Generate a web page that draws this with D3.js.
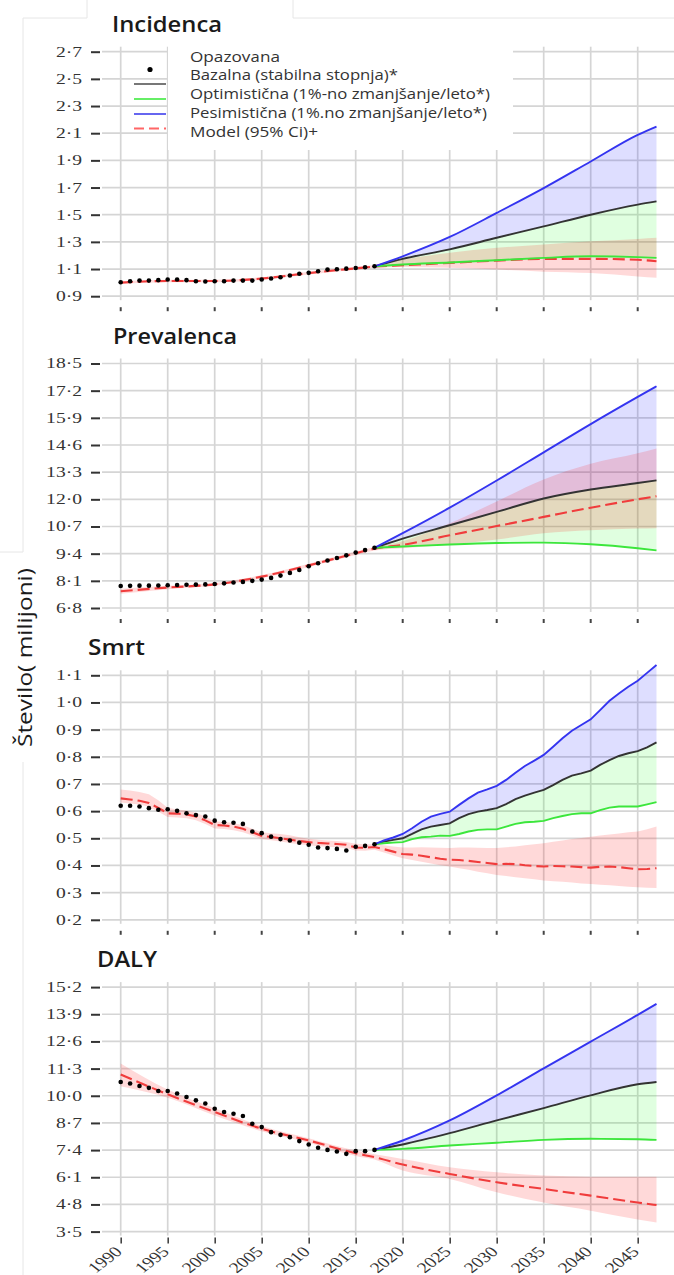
<!DOCTYPE html>
<html>
<head>
<meta charset="utf-8">
<script src="https://cdn.jsdelivr.net/npm/d3@7"></script>
<style>
  body { margin: 0; background: #fff; }
  svg { display: block; }
</style>
</head>
<body>
<div id="chart"></div>
<script>
// ---- data (millions) ----
const years5 = [1990, 1995, 2000, 2005, 2010, 2015, 2020, 2025, 2030, 2035, 2040, 2045];
const obsYears = d3.range(1990, 2018);
const sparseModelYears = [1990, 1995, 2000, 2005, 2010, 2015, 2017, 2020, 2025, 2030, 2035, 2040, 2045, 2047];
const sparseScenYears = [2017, 2020, 2025, 2030, 2035, 2040, 2045, 2047];
const smrtModelYears = d3.range(1990, 2048);
const smrtScenYears = d3.range(2017, 2048);

const panelTitles = ["Incidenca", "Prevalenca", "Smrt", "DALY"];
const legendLabels = ["Opazovana", "Bazalna (stabilna stopnja)*", "Optimistična (1%-no zmanjšanje/leto*)",
  "Pesimistična (1%.no zmanjšanje/leto*)", "Model (95% Ci)+"];
const yTitle = "Število( milijoni)";

// Incidenca
const incTicks = [0.9, 1.1, 1.3, 1.5, 1.7, 1.9, 2.1, 2.3, 2.5, 2.7];
const incObserved = [1.003, 1.010, 1.015, 1.015, 1.018, 1.023, 1.023, 1.018, 1.010, 1.008, 1.010, 1.010, 1.015, 1.015,
  1.015, 1.023, 1.030, 1.040, 1.052, 1.065, 1.072, 1.084, 1.096, 1.098, 1.103, 1.108, 1.113, 1.120];
const incModel = [1.000, 1.012, 1.012, 1.030, 1.070, 1.105, 1.118, 1.128, 1.145, 1.162, 1.175, 1.175, 1.168, 1.157];
const incLo = [0.990, 1.002, 1.002, 1.020, 1.060, 1.095, 1.108, 1.115, 1.110, 1.096, 1.080, 1.070, 1.045, 1.035];
const incHi = [1.010, 1.022, 1.022, 1.040, 1.080, 1.115, 1.130, 1.170, 1.219, 1.256, 1.280, 1.304, 1.322, 1.330];
const incBase = [1.120, 1.175, 1.245, 1.330, 1.414, 1.500, 1.574, 1.598];
const incOpt = [1.120, 1.133, 1.148, 1.165, 1.182, 1.194, 1.188, 1.182];
const incPes = [1.120, 1.194, 1.336, 1.513, 1.696, 1.892, 2.088, 2.149];

// Prevalenca
const prevTicks = [6.8, 8.1, 9.4, 10.7, 12.0, 13.3, 14.6, 15.9, 17.2, 18.5];
const prevObserved = [7.85, 7.86, 7.87, 7.87, 7.88, 7.89, 7.90, 7.91, 7.92, 7.93, 7.95, 7.98, 8.02, 8.05,
  8.10, 8.16, 8.24, 8.35, 8.48, 8.62, 8.80, 8.94, 9.07, 9.19, 9.32, 9.45, 9.57, 9.68];
const prevModel = [7.60, 7.78, 7.93, 8.30, 8.84, 9.42, 9.64, 9.82, 10.28, 10.72, 11.16, 11.60, 12.00, 12.15];
const prevLo = [7.48, 7.70, 7.86, 8.22, 8.76, 9.34, 9.55, 9.66, 9.84, 10.08, 10.38, 10.52, 10.60, 10.62];
const prevHi = [7.72, 7.86, 8.00, 8.38, 8.92, 9.50, 9.72, 10.00, 10.85, 11.90, 12.95, 13.70, 14.20, 14.43];
const prevBase = [9.68, 10.12, 10.76, 11.40, 12.04, 12.47, 12.78, 12.91];
const prevOpt = [9.68, 9.74, 9.84, 9.91, 9.93, 9.85, 9.66, 9.56];
const prevPes = [9.68, 10.38, 11.60, 12.90, 14.25, 15.60, 16.90, 17.41];

// Smrt
const smrtTicks = [0.2, 0.3, 0.4, 0.5, 0.6, 0.7, 0.8, 0.9, 1.0, 1.1];
const smrtObserved = [0.620, 0.620, 0.617, 0.611, 0.605, 0.607, 0.601, 0.592, 0.586, 0.580, 0.565, 0.559, 0.557, 0.553,
  0.525, 0.519, 0.506, 0.497, 0.492, 0.484, 0.476, 0.466, 0.464, 0.461, 0.455, 0.469, 0.472, 0.478];
const smrtModel = [0.647, 0.643, 0.638, 0.630, 0.612, 0.592, 0.591, 0.588, 0.580, 0.566,
  0.549, 0.547, 0.543, 0.535, 0.522, 0.509, 0.505, 0.500, 0.495, 0.490,
  0.486, 0.483, 0.481, 0.479, 0.476, 0.466, 0.465, 0.468, 0.460, 0.451,
  0.442, 0.440, 0.436, 0.430, 0.425, 0.421, 0.420, 0.417, 0.413, 0.409,
  0.405, 0.406, 0.405, 0.401, 0.398, 0.396, 0.398, 0.397, 0.396, 0.394,
  0.392, 0.395, 0.396, 0.394, 0.390, 0.386, 0.387, 0.390];
const smrtHi = [0.680, 0.676, 0.670, 0.662, 0.640, 0.612, 0.606, 0.602, 0.594, 0.580,
  0.563, 0.560, 0.556, 0.548, 0.535, 0.522, 0.519, 0.516, 0.511, 0.504,
  0.498, 0.495, 0.492, 0.490, 0.486, 0.480, 0.478, 0.478, 0.474, 0.470,
  0.466, 0.466, 0.467, 0.466, 0.465, 0.464, 0.466, 0.466, 0.465, 0.464,
  0.464, 0.467, 0.470, 0.474, 0.478, 0.482, 0.487, 0.492, 0.497, 0.501,
  0.506, 0.510, 0.514, 0.518, 0.522, 0.525, 0.533, 0.543];
const smrtLo = [0.632, 0.628, 0.624, 0.616, 0.598, 0.578, 0.577, 0.574, 0.566, 0.553,
  0.536, 0.534, 0.530, 0.522, 0.510, 0.497, 0.493, 0.488, 0.483, 0.478,
  0.474, 0.471, 0.469, 0.467, 0.464, 0.455, 0.454, 0.458, 0.448, 0.437,
  0.427, 0.420, 0.414, 0.407, 0.401, 0.396, 0.390, 0.384, 0.377, 0.371,
  0.365, 0.361, 0.357, 0.353, 0.349, 0.345, 0.342, 0.340, 0.337, 0.334,
  0.332, 0.329, 0.327, 0.324, 0.322, 0.320, 0.318, 0.317];
const smrtBase = [0.478, 0.488, 0.494, 0.500, 0.516, 0.533, 0.543, 0.549, 0.555, 0.574, 0.589, 0.598, 0.604, 0.611,
  0.626, 0.644, 0.657, 0.668, 0.678, 0.696, 0.715, 0.731, 0.739, 0.749, 0.770, 0.788, 0.803, 0.813, 0.821, 0.835, 0.853];
const smrtOpt = [0.478, 0.482, 0.484, 0.486, 0.497, 0.504, 0.506, 0.510, 0.509, 0.516, 0.525, 0.531, 0.533, 0.533,
  0.543, 0.553, 0.559, 0.561, 0.564, 0.574, 0.582, 0.589, 0.592, 0.592, 0.604, 0.613, 0.617, 0.617, 0.617, 0.625, 0.633];
const smrtPes = [0.478, 0.492, 0.503, 0.516, 0.537, 0.561, 0.580, 0.590, 0.598, 0.623, 0.647, 0.668, 0.680, 0.693,
  0.715, 0.741, 0.766, 0.786, 0.807, 0.837, 0.868, 0.896, 0.917, 0.938, 0.972, 1.006, 1.033, 1.058, 1.080, 1.109, 1.138];

// DALY
const dalyTicks = [3.5, 4.8, 6.1, 7.4, 8.7, 10.0, 11.3, 12.6, 13.9, 15.2];
const dalyObserved = [10.66, 10.59, 10.47, 10.38, 10.23, 10.23, 10.11, 9.94, 9.78, 9.63, 9.38, 9.22, 9.14, 9.03,
  8.66, 8.50, 8.26, 8.13, 8.02, 7.83, 7.67, 7.51, 7.41, 7.33, 7.22, 7.35, 7.35, 7.41];
const dalyModel = [11.02, 10.07, 9.22, 8.42, 7.86, 7.25, 7.06, 6.71, 6.26, 5.86, 5.54, 5.22, 4.89, 4.77];
const dalyLo = [10.45, 9.90, 9.05, 8.30, 7.75, 7.12, 6.95, 6.42, 6.02, 5.38, 4.89, 4.50, 4.08, 3.93];
const dalyHi = [11.55, 10.30, 9.40, 8.55, 7.97, 7.38, 7.20, 6.98, 6.58, 6.34, 6.18, 6.13, 6.13, 6.13];
const dalyBase = [7.41, 7.67, 8.21, 8.82, 9.41, 10.02, 10.55, 10.66];
const dalyOpt = [7.41, 7.46, 7.62, 7.75, 7.89, 7.94, 7.92, 7.89];
const dalyPes = [7.41, 7.86, 8.82, 10.02, 11.31, 12.59, 13.87, 14.40];

const panels = [
  { ticks: incTicks, obs: incObserved, mYears: sparseModelYears, model: incModel, lo: incLo, hi: incHi,
    sYears: sparseScenYears, base: incBase, opt: incOpt, pes: incPes, curve: d3.curveMonotoneX },
  { ticks: prevTicks, obs: prevObserved, mYears: sparseModelYears, model: prevModel, lo: prevLo, hi: prevHi,
    sYears: sparseScenYears, base: prevBase, opt: prevOpt, pes: prevPes, curve: d3.curveMonotoneX },
  { ticks: smrtTicks, obs: smrtObserved, mYears: smrtModelYears, model: smrtModel, lo: smrtLo, hi: smrtHi,
    sYears: smrtScenYears, base: smrtBase, opt: smrtOpt, pes: smrtPes, curve: d3.curveLinear },
  { ticks: dalyTicks, obs: dalyObserved, mYears: sparseModelYears, model: dalyModel, lo: dalyLo, hi: dalyHi,
    sYears: sparseScenYears, base: dalyBase, opt: dalyOpt, pes: dalyPes, curve: d3.curveMonotoneX }
];

// ---- layout ----
const W = 674, H = 1275;
const plotH = 244.5, panelStep = 311.8, firstTop = 51.7;
const titleX = [112, 113, 88, 97], titleW = [110, 124, 57, 60];

const col = {
  grid: "#d5d5d5", base: "#333", opt: "#3ce63c", pes: "#3434f0", model: "#f03c3c",
  baseFill: "rgba(0,0,255,0.13)", optFill: "rgba(0,255,0,0.12)", bandFill: "rgba(255,0,0,0.15)"
};

const fmt = d => d.toFixed(1).replace(".", "·");

const x = d3.scaleLinear().domain([1990, 2045]).range([120.7, 637.7]);

const svg = d3.select("#chart").append("svg")
  .attr("width", W).attr("height", H);

// faint frame left over from the pasted figure
const frame = svg.append("g").attr("fill", "none").attr("stroke", "#e6e6e6").attr("stroke-width", 1);
frame.append("path").attr("d", "M87,0V18H23V552H0");
frame.append("path").attr("d", "M293,0V18H674");
frame.append("path").attr("d", "M23,762V1275");

panels.forEach((p, i) => {
  const top = firstTop + i * panelStep, bottom = top + plotH;
  const y = d3.scaleLinear().domain([p.ticks[0], p.ticks[p.ticks.length - 1]]).range([bottom, top]);
  const g = svg.append("g");

  // grid
  g.append("g").selectAll("line").data(p.ticks).join("line")
    .attr("x1", 102).attr("x2", W)
    .attr("y1", d => y(d)).attr("y2", d => y(d))
    .attr("stroke", col.grid).attr("stroke-width", 1.7);
  g.append("g").selectAll("line").data(years5).join("line")
    .attr("x1", d => x(d)).attr("x2", d => x(d))
    .attr("y1", top - 5).attr("y2", bottom + 4)
    .attr("stroke", col.grid).attr("stroke-width", 1.7);

  // y axis (ticks + stretched serif labels)
  const ya = g.append("g").attr("transform", "translate(100,0)")
    .call(d3.axisLeft(y).tickValues(p.ticks).tickSize(9).tickFormat(fmt));
  ya.select(".domain").remove();
  ya.selectAll(".tick line").attr("stroke", "#333").attr("stroke-width", 2);
  ya.selectAll(".tick text")
    .attr("x", null)
    .attr("transform", "translate(-18,0) scale(1.4,1)")
    .attr("font-family", "Liberation Serif, serif").attr("font-size", 14).attr("fill", "#333");

  // x ticks
  if (i < 3) {
    g.append("g").selectAll("line").data(years5).join("line")
      .attr("x1", d => x(d)).attr("x2", d => x(d))
      .attr("y1", bottom + 11).attr("y2", bottom + 15)
      .attr("stroke", "#444").attr("stroke-width", 2);
  } else {
    const xa = g.append("g").attr("transform", `translate(0,${bottom + 6})`)
      .call(d3.axisBottom(x).tickValues(years5).tickSize(6).tickFormat(d => d));
    xa.select(".domain").remove();
    xa.selectAll(".tick line").attr("stroke", "#444").attr("stroke-width", 1.6);
    xa.selectAll(".tick text")
      .attr("y", null).attr("dy", null)
      .attr("text-anchor", "end")
      .attr("transform", "translate(2,15) scale(1.3,1) rotate(-45)")
      .attr("font-family", "Liberation Serif, serif").attr("font-size", 15).attr("fill", "#333");
  }

  // title
  svg.append("text")
    .attr("x", titleX[i]).attr("y", top - 20)
    .attr("font-family", "Open Sans, sans-serif").attr("font-size", 21).attr("font-weight", 600)
    .attr("fill", "#1a1a1a")
    .attr("textLength", titleW[i]).attr("lengthAdjust", "spacingAndGlyphs")
    .text(panelTitles[i]);

  // data rows
  const mRows = p.mYears.map((yr, k) => ({ yr, m: p.model[k], lo: p.lo[k], hi: p.hi[k] }));
  const sRows = p.sYears.map((yr, k) => ({ yr, base: p.base[k], opt: p.opt[k], pes: p.pes[k] }));
  const oRows = obsYears.map((yr, k) => ({ yr, v: p.obs[k] }));

  const band = (a, b) => d3.area().curve(p.curve).x(d => x(d.yr)).y0(d => y(d[a])).y1(d => y(d[b]));
  const line = key => d3.line().curve(p.curve).x(d => x(d.yr)).y(d => y(d[key]));

  g.append("path").datum(sRows).attr("d", band("base", "pes")).attr("fill", col.baseFill);
  g.append("path").datum(sRows).attr("d", band("opt", "base")).attr("fill", col.optFill);
  g.append("path").datum(mRows).attr("d", band("lo", "hi")).attr("fill", col.bandFill);

  g.append("path").datum(mRows).attr("d", line("m"))
    .attr("fill", "none").attr("stroke", col.model).attr("stroke-width", 2.1).attr("stroke-dasharray", "12,5");
  [["base", col.base], ["opt", col.opt], ["pes", col.pes]].forEach(([k, c]) => {
    g.append("path").datum(sRows).attr("d", line(k))
      .attr("fill", "none").attr("stroke", c).attr("stroke-width", 1.9);
  });

  g.append("g").selectAll("circle").data(oRows).join("circle")
    .attr("cx", d => x(d.yr)).attr("cy", d => y(d.v)).attr("r", 2.3).attr("fill", "#000");
});

// legend
const lg = svg.append("g");
lg.append("rect").attr("x", 168).attr("y", 40).attr("width", 345).attr("height", 110).attr("fill", "#fff");
const legendW = [90, 208, 300, 297, 128];
lg.selectAll("text").data(legendLabels).join("text")
  .attr("x", 190).attr("y", (d, k) => 61.7 + k * 18.7)
  .attr("font-family", "Open Sans, sans-serif").attr("font-size", 14).attr("fill", "#333")
  .attr("textLength", (d, k) => legendW[k]).attr("lengthAdjust", "spacingAndGlyphs")
  .text(d => d);
lg.append("circle").attr("cx", 150).attr("cy", 69.5).attr("r", 2.6).attr("fill", "#000");
const legendLines = [[84, "#777", null], [99, "#66ee66", null], [114, "#6666f0", null], [128.5, "#f66", "10,5"]];
legendLines.forEach(([yy, c, dash]) => {
  lg.append("line").attr("x1", 134).attr("x2", 166).attr("y1", yy).attr("y2", yy)
    .attr("stroke", c).attr("stroke-width", 2).attr("stroke-dasharray", dash);
});

// y title
svg.append("text")
  .attr("transform", "translate(32,657.5) rotate(-90)")
  .attr("text-anchor", "middle")
  .attr("font-family", "Open Sans, sans-serif").attr("font-size", 20).attr("fill", "#1a1a1a")
  .attr("textLength", 179).attr("lengthAdjust", "spacingAndGlyphs")
  .text(yTitle);
</script>
</body>
</html>
